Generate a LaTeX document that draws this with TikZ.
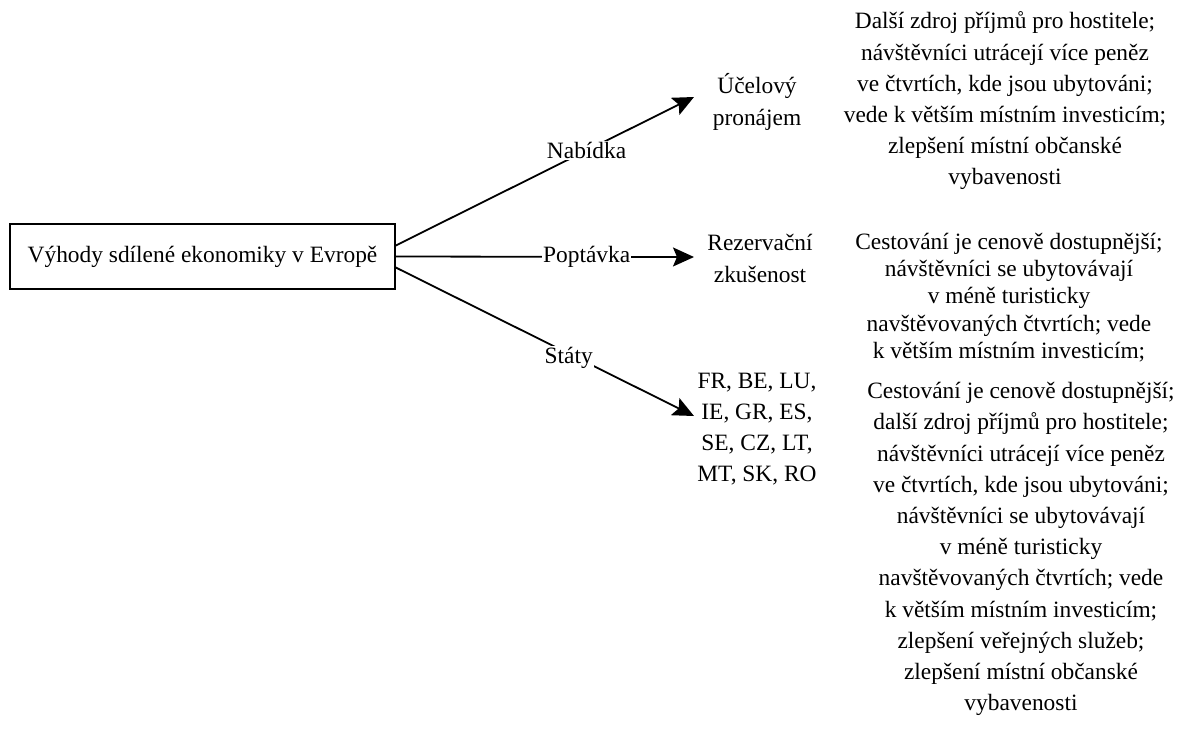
\documentclass[tikz,border=0pt]{standalone}
\usepackage{fontspec}
\setmainfont{Liberation Serif}
\usetikzlibrary{arrows.meta,calc}
\begin{document}
\begin{tikzpicture}[x=1pt,y=-1pt,
  txt/.style={align=center,inner sep=0pt,font=\fontsize{23.4}{31.2}\selectfont},
  tight/.style={align=center,inner sep=0pt,font=\fontsize{23.4}{27.3}\selectfont},
  link/.style={line width=1.8pt,-{Stealth[length=21pt,width=19pt,inset=4pt]}},
  lab/.style={fill=white,inner sep=1pt,font=\fontsize{23.4}{27}\selectfont}]
\useasboundingbox (0,0) rectangle (1181,740);
% root box
\node[draw,line width=1.5pt,minimum width=385pt,minimum height=65pt,inner sep=0pt,
      font=\fontsize{23.4}{27}\selectfont] (root) at (202.5,256.5) {Výhody sdílené ekonomiky v Evropě};
% branch targets
\node[txt] (ucel) at (757,102) {Účelový\\pronájem};
\node[txt] (rez) at (760,258.5) {Rezervační\\zkušenost};
\node[txt] (stat) at (757,429) {FR, BE, LU,\\IE, GR, ES,\\SE, CZ, LT,\\MT, SK, RO};
% arrow tips
\coordinate (tA) at (694,97);
\coordinate (tB) at (694,257);
\coordinate (tC) at (694,416);
% connectors
\draw[link] ($(root.east)+(0,-11)$) -- node[lab,pos=0.64] (nab) {Nabídka} (tA);
\draw[link] (root.east) -- node[lab,pos=0.64] (pop) {Poptávka} (tB);
\draw[link] ($(root.east)+(0,11)$) -- node[lab,pos=0.58,yshift=-4pt] (sta) {Státy} (tC);
% descriptions
\node[txt] (d1) at (1005,101) {Další zdroj příjmů pro hostitele;\\návštěvníci utrácejí více peněz\\ve čtvrtích, kde jsou ubytováni;\\vede k větším místním investicím;\\zlepšení místní občanské\\vybavenosti};
\node[tight] (d2) at (1009,297.5) {Cestování je cenově dostupnější;\\návštěvníci se ubytovávají\\v méně turisticky\\navštěvovaných čtvrtích; vede\\k větším místním investicím;};
\node[txt] (d3) at (1021,549) {Cestování je cenově dostupnější;\\další zdroj příjmů pro hostitele;\\návštěvníci utrácejí více peněz\\ve čtvrtích, kde jsou ubytováni;\\návštěvníci se ubytovávají\\v méně turisticky\\navštěvovaných čtvrtích; vede\\k větším místním investicím;\\zlepšení veřejných služeb;\\zlepšení místní občanské\\vybavenosti};
\end{tikzpicture}
\end{document}
